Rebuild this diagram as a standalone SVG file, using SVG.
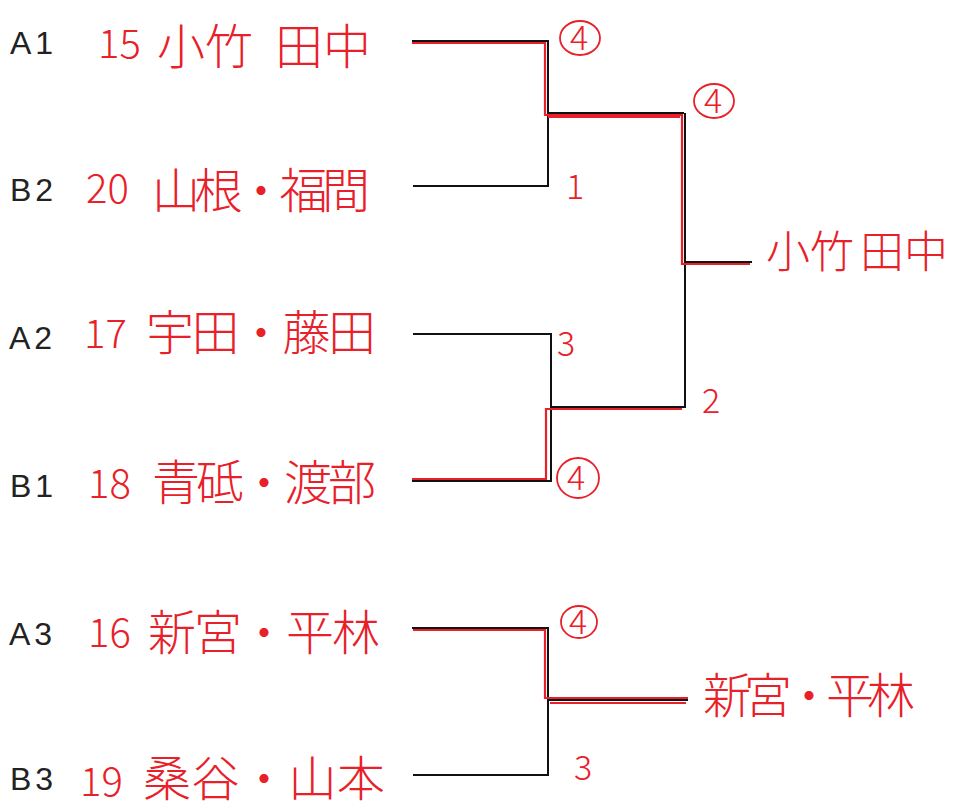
<svg xmlns="http://www.w3.org/2000/svg" width="955" height="812" viewBox="0 0 955 812">
<style>
.lbl{font-family:"Liberation Sans",Arial,sans-serif;font-size:32px;fill:#222;letter-spacing:4px}
.num{font-family:"Noto Sans CJK JP","Liberation Sans",sans-serif;font-size:40px;fill:#e8202a;font-weight:300}
.nm{font-family:"Noto Sans CJK JP",sans-serif;font-size:48px;fill:#e8202a;font-weight:300}
.wn{font-family:"Noto Sans CJK JP",sans-serif;font-size:44px;fill:#e8202a;font-weight:300}
.sc{font-family:"Noto Sans CJK JP","Liberation Sans",sans-serif;font-size:34px;fill:#e8202a;font-weight:300}
.blk{fill:none;stroke:#111;stroke-width:2}
.red{fill:none;stroke:#e8202a;stroke-width:2.2}
.ring{fill:none;stroke:#e8202a;stroke-width:1.8}
</style>
<rect width="955" height="812" fill="#fff"/>
<g id="connectors">
<polyline class="blk" points="412,41 548,41 548,186 413,186"/>
<line class="blk" x1="548" y1="113" x2="684" y2="113"/>
<polyline class="blk" points="551,407 685,407 685,113"/>
<line class="blk" x1="685" y1="262" x2="752" y2="262"/>
<polyline class="blk" points="413,334 551,334 551,481 412,481"/>
<polyline class="blk" points="412,628 548,628 548,775 413,775"/>
<line class="blk" x1="548" y1="700" x2="688" y2="700"/>
<polyline class="red" points="412,43 545,43 545,115 682,115 682,264 750,264"/>
<polyline class="red" points="548,117 680,117"/>
<polyline class="red" points="412,479 546,479 546,409 682,409"/>
<polyline class="red" points="413,630 545,630 545,698 688,698"/>
<polyline class="red" points="550,703 686,703"/>
</g>
<g id="A1"><text class="lbl" x="10" y="54">A1</text><text class="num" x="98" y="58">15</text><text class="nm" x="157" y="64"><tspan>小竹</tspan><tspan x="275">田中</tspan></text></g>
<g id="B2"><text class="lbl" x="10" y="201">B2</text><text class="num" x="86" y="203">20</text><text class="nm" x="152" y="208" textLength="218">山根・福間</text></g>
<g id="A2"><text class="lbl" x="9" y="349">A2</text><text class="num" x="84" y="348">17</text><text class="nm" x="146" y="350" textLength="230">宇田・藤田</text></g>
<g id="B1"><text class="lbl" x="10" y="497">B1</text><text class="num" x="88" y="498">18</text><text class="nm" x="152" y="500" textLength="224">青砥・渡部</text></g>
<g id="A3"><text class="lbl" x="9" y="645">A3</text><text class="num" x="88" y="647">16</text><text class="nm" x="148" y="650" textLength="232">新宮・平林</text></g>
<g id="B3"><text class="lbl" x="10" y="790">B3</text><text class="num" x="80" y="796">19</text><text class="nm" x="143" y="796" textLength="242">桑谷・山本</text></g>
<g id="scores">
<ellipse class="ring" cx="580" cy="38" rx="20" ry="17"/><text class="sc" x="570" y="50">4</text>
<text class="sc" x="566" y="199">1</text>
<ellipse class="ring" cx="714" cy="101" rx="20" ry="17"/><text class="sc" x="704" y="113">4</text>
<text class="sc" x="557" y="356">3</text>
<text class="sc" x="702" y="413">2</text>
<ellipse class="ring" cx="578" cy="478" rx="21" ry="20"/><text class="sc" x="567" y="490">4</text>
<ellipse class="ring" cx="579" cy="622" rx="18" ry="16"/><text class="sc" x="569" y="634">4</text>
<text class="sc" x="574" y="780">3</text>
</g>
<g id="winner1"><text class="wn" x="766" y="268"><tspan>小竹</tspan><tspan x="860">田中</tspan></text></g>
<g id="winner2"><text class="nm" x="703" y="713" textLength="212">新宮・平林</text></g>
</svg>
